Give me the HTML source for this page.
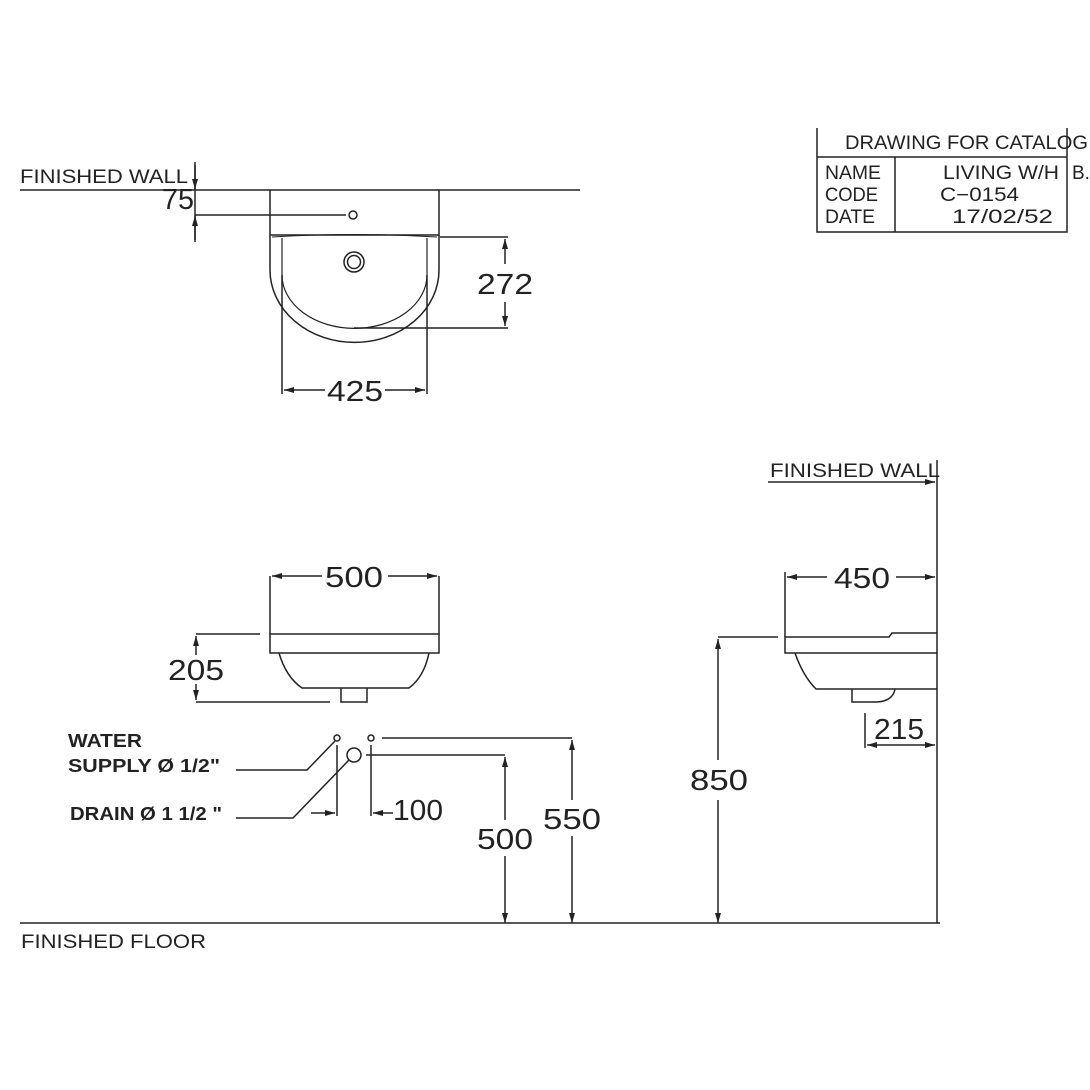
<!DOCTYPE html>
<html><head><meta charset="utf-8"><style>
html,body{margin:0;padding:0;background:#fff;}
svg{display:block;}
text{font-family:"Liberation Sans",sans-serif;fill:#222;}
.t{font-size:19px;}
.d{font-size:29px;}
.b{font-size:18px;font-weight:bold;}
</style></head><body>
<svg width="1090" height="1090" viewBox="0 0 1090 1090" xmlns="http://www.w3.org/2000/svg">
<defs>
<marker id="a" viewBox="0 0 10 6" refX="10" refY="3" markerWidth="10" markerHeight="6" orient="auto-start-reverse" markerUnits="userSpaceOnUse"><path d="M0,0 L10,3 L0,6 z" fill="#222"/></marker>
</defs>
<g stroke="#222" stroke-width="1.5" fill="none">
<!-- top view -->
<line x1="20" y1="190" x2="580" y2="190"/>
<line x1="195" y1="162" x2="195" y2="242"/>
<line x1="195" y1="165" x2="195" y2="189" marker-end="url(#a)"/>
<line x1="195" y1="240" x2="195" y2="216" marker-end="url(#a)"/>
<line x1="195" y1="215" x2="346" y2="215"/>
<circle cx="353" cy="215" r="4"/>
<path d="M270,190 V235 H439 V190"/>
<path d="M272,237 Q354,232 437,237" stroke-width="1"/>
<path d="M270,235 V270 A84,72 0 0 0 439,270 V235"/>
<path d="M282,238 V275 A72,53 0 0 0 427,275 V238" stroke-width="1.2"/>
<circle cx="354" cy="262" r="10"/>
<circle cx="354" cy="262" r="6.5"/>
<line x1="440" y1="237" x2="508" y2="237"/>
<line x1="354" y1="328" x2="508" y2="328"/>
<line x1="505" y1="264" x2="505" y2="239" marker-end="url(#a)"/>
<line x1="505" y1="302" x2="505" y2="326" marker-end="url(#a)"/>
<line x1="282" y1="275" x2="282" y2="394"/>
<line x1="427" y1="275" x2="427" y2="394"/>
<line x1="325" y1="390" x2="284" y2="390" marker-end="url(#a)"/>
<line x1="385" y1="390" x2="425" y2="390" marker-end="url(#a)"/>
<!-- front view -->
<line x1="270" y1="576" x2="270" y2="634"/>
<line x1="439" y1="576" x2="439" y2="634"/>
<line x1="322" y1="576" x2="272" y2="576" marker-end="url(#a)"/>
<line x1="388" y1="576" x2="437" y2="576" marker-end="url(#a)"/>
<rect x="270" y="634" width="169" height="19"/>
<path d="M279,653 Q286,677 302,688 H409 Q424,677 429,653"/>
<path d="M341,688 V702 H367 V688"/>
<line x1="196" y1="634" x2="260" y2="634"/>
<line x1="196" y1="702" x2="330" y2="702"/>
<line x1="196" y1="655" x2="196" y2="636" marker-end="url(#a)"/>
<line x1="196" y1="684" x2="196" y2="700" marker-end="url(#a)"/>
<circle cx="337" cy="738" r="3"/>
<circle cx="371" cy="738" r="3"/>
<circle cx="354" cy="755" r="7"/>
<line x1="382" y1="738" x2="572" y2="738"/>
<line x1="366" y1="755" x2="505" y2="755"/>
<line x1="572" y1="800" x2="572" y2="740" marker-end="url(#a)"/>
<line x1="572" y1="836" x2="572" y2="923" marker-end="url(#a)"/>
<line x1="505" y1="820" x2="505" y2="757" marker-end="url(#a)"/>
<line x1="505" y1="856" x2="505" y2="923" marker-end="url(#a)"/>
<polyline points="236,770 307,770 335,741"/>
<polyline points="236,818 293,818 349,760"/>
<line x1="337" y1="745" x2="337" y2="816"/>
<line x1="371" y1="745" x2="371" y2="816"/>
<line x1="311" y1="813" x2="335" y2="813" marker-end="url(#a)"/>
<line x1="393" y1="813" x2="373" y2="813" marker-end="url(#a)"/>
<line x1="20" y1="923" x2="940" y2="923"/>
<!-- side view -->
<line x1="937" y1="460" x2="937" y2="923"/>
<line x1="768" y1="482" x2="935" y2="482" marker-end="url(#a)"/>
<line x1="785" y1="572" x2="785" y2="637"/>
<line x1="827" y1="577" x2="787" y2="577" marker-end="url(#a)"/>
<line x1="896" y1="577" x2="935" y2="577" marker-end="url(#a)"/>
<path d="M937,633 H892 L889,637 H785 V653 H937"/>
<path d="M795,653 Q803,676 816,689 H937"/>
<path d="M852,689 V702 H877 Q893,701 895,689"/>
<line x1="718" y1="637" x2="778" y2="637"/>
<line x1="718" y1="760" x2="718" y2="639" marker-end="url(#a)"/>
<line x1="718" y1="800" x2="718" y2="923" marker-end="url(#a)"/>
<line x1="865" y1="713" x2="865" y2="748"/>
<line x1="900" y1="745" x2="867" y2="745" marker-end="url(#a)"/>
<line x1="900" y1="745" x2="935" y2="745" marker-end="url(#a)"/>
<!-- title block -->
<path d="M817,128 V232 H1067 V128"/>
<line x1="817" y1="157" x2="1067" y2="157"/>
<line x1="895" y1="157" x2="895" y2="232"/>
</g>
<text class="t" x="20" y="183" textLength="168" lengthAdjust="spacingAndGlyphs">FINISHED WALL</text>
<text class="d" x="162" y="209" textLength="32" lengthAdjust="spacingAndGlyphs">75</text>
<text class="d" x="477" y="294" textLength="56" lengthAdjust="spacingAndGlyphs">272</text>
<text class="d" x="327" y="401" textLength="56" lengthAdjust="spacingAndGlyphs">425</text>
<text class="d" x="325" y="587" textLength="58" lengthAdjust="spacingAndGlyphs">500</text>
<text class="d" x="168" y="680" textLength="56" lengthAdjust="spacingAndGlyphs">205</text>
<text class="b" x="68" y="747" textLength="74" lengthAdjust="spacingAndGlyphs">WATER</text>
<text class="b" x="68" y="772" textLength="152" lengthAdjust="spacingAndGlyphs">SUPPLY  Ø  1/2"</text>
<text class="b" x="70" y="820" textLength="152" lengthAdjust="spacingAndGlyphs">DRAIN Ø 1 1/2 "</text>
<text class="d" x="393" y="820" textLength="50" lengthAdjust="spacingAndGlyphs">100</text>
<text class="d" x="477" y="849" textLength="56" lengthAdjust="spacingAndGlyphs">500</text>
<text class="d" x="543" y="829" textLength="58" lengthAdjust="spacingAndGlyphs">550</text>
<text class="t" x="21" y="948" textLength="185" lengthAdjust="spacingAndGlyphs">FINISHED FLOOR</text>
<text class="t" x="770" y="477" textLength="170" lengthAdjust="spacingAndGlyphs">FINISHED WALL</text>
<text class="d" x="834" y="588" textLength="56" lengthAdjust="spacingAndGlyphs">450</text>
<text class="d" x="690" y="790" textLength="58" lengthAdjust="spacingAndGlyphs">850</text>
<text class="d" x="874" y="739" textLength="50" lengthAdjust="spacingAndGlyphs">215</text>
<text class="t" x="845" y="149" textLength="243" lengthAdjust="spacingAndGlyphs">DRAWING FOR CATALOG</text>
<text class="t" x="825" y="179" textLength="56" lengthAdjust="spacingAndGlyphs">NAME</text>
<text class="t" x="825" y="201" textLength="53" lengthAdjust="spacingAndGlyphs">CODE</text>
<text class="t" x="825" y="223" textLength="50" lengthAdjust="spacingAndGlyphs">DATE</text>
<text class="t" x="943" y="179" textLength="116" lengthAdjust="spacingAndGlyphs">LIVING W/H</text>
<text class="t" x="1072" y="179">B.</text>
<text class="t" x="940" y="201" textLength="79" lengthAdjust="spacingAndGlyphs">C−0154</text>
<text class="t" x="952" y="223" textLength="101" lengthAdjust="spacingAndGlyphs">17/02/52</text>
</svg>
</body></html>
